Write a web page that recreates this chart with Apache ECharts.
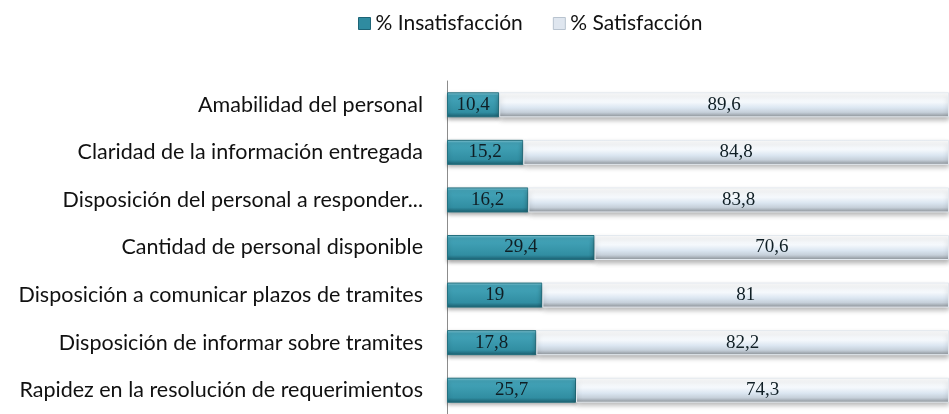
<!DOCTYPE html>
<html><head><meta charset="utf-8">
<script src="https://cdn.jsdelivr.net/npm/echarts@6/dist/echarts.min.js"></script>
<style>html,body{margin:0;padding:0;background:#fff}#c{width:949px;height:414px}</style>
</head><body><div id="c"></div>
<script>
const categories = [
  "Amabilidad del personal",
  "Claridad de la información entregada",
  "Disposición del personal a responder...",
  "Cantidad de personal disponible",
  "Disposición a comunicar plazos de tramites",
  "Disposición de informar sobre tramites",
  "Rapidez en la resolución de requerimientos"
];
const insatisfaccion = [10.4, 15.2, 16.2, 29.4, 19, 17.8, 25.7];
const satisfaccion = [89.6, 84.8, 83.8, 70.6, 81, 82.2, 74.3];
const seriesNames = ["% Insatisfacción", "% Satisfacción"];

const fmt = p => String(p.value).replace('.', ',');
const chart = echarts.init(document.getElementById('c'));
chart.setOption({
  animation: false,
  legend: {
    left: 353, top: 8,
    itemWidth: 12, itemHeight: 12, itemGap: 30,
    textStyle: { fontFamily: 'Lato', fontSize: 21, color: '#111' },
    data: [
      { name: seriesNames[0], icon: 'rect', itemStyle: { color: '#2f8ba0', borderColor: '#1d6476', borderWidth: 1 } },
      { name: seriesNames[1], icon: 'rect', itemStyle: { color: '#dfe6ef', borderColor: '#b8c3cf', borderWidth: 1 } }
    ]
  },
  grid: { left: 447, top: 81, width: 506, height: 341 },
  xAxis: { type: 'value', min: 0, max: 100, show: false },
  yAxis: {
    type: 'category', data: categories, inverse: true,
    axisLine: { show: true, lineStyle: { color: '#8c8c8c', width: 1 } },
    axisTick: { show: false },
    axisLabel: { margin: 24, fontFamily: 'Lato', fontSize: 21.5, color: '#111' }
  },
  series: [
    {
      name: seriesNames[0], type: 'bar', stack: 't', barWidth: 25, data: insatisfaccion,
      itemStyle: {
        color: new echarts.graphic.LinearGradient(0, 0, 0, 1, [
          { offset: 0, color: '#8fd0de' },
          { offset: 0.12, color: '#45a6bb' },
          { offset: 0.8, color: '#318ea2' },
          { offset: 1, color: '#1b5f70' }
        ]),
        borderColor: '#23707f', borderWidth: 1,
        shadowColor: 'rgba(0,0,0,0.35)', shadowBlur: 4, shadowOffsetY: 2
      },
      label: { show: true, position: 'inside', formatter: fmt, fontFamily: 'Liberation Serif', fontSize: 19, color: '#0f1e24' }
    },
    {
      name: seriesNames[1], type: 'bar', stack: 't', barWidth: 25, data: satisfaccion,
      itemStyle: {
        color: new echarts.graphic.LinearGradient(0, 0, 0, 1, [
          { offset: 0, color: '#ffffff' },
          { offset: 0.4, color: '#f4f8fc' },
          { offset: 0.62, color: '#dbe6f1' },
          { offset: 0.8, color: '#c6d0da' },
          { offset: 1, color: '#8a9096' }
        ]),
        borderColor: '#e3e9ef', borderWidth: 1,
        shadowColor: 'rgba(0,0,0,0.3)', shadowBlur: 5, shadowOffsetY: 3
      },
      label: { show: true, position: 'inside', formatter: fmt, fontFamily: 'Liberation Serif', fontSize: 19, color: '#0f1e24' }
    }
  ]
});
</script></body></html>
